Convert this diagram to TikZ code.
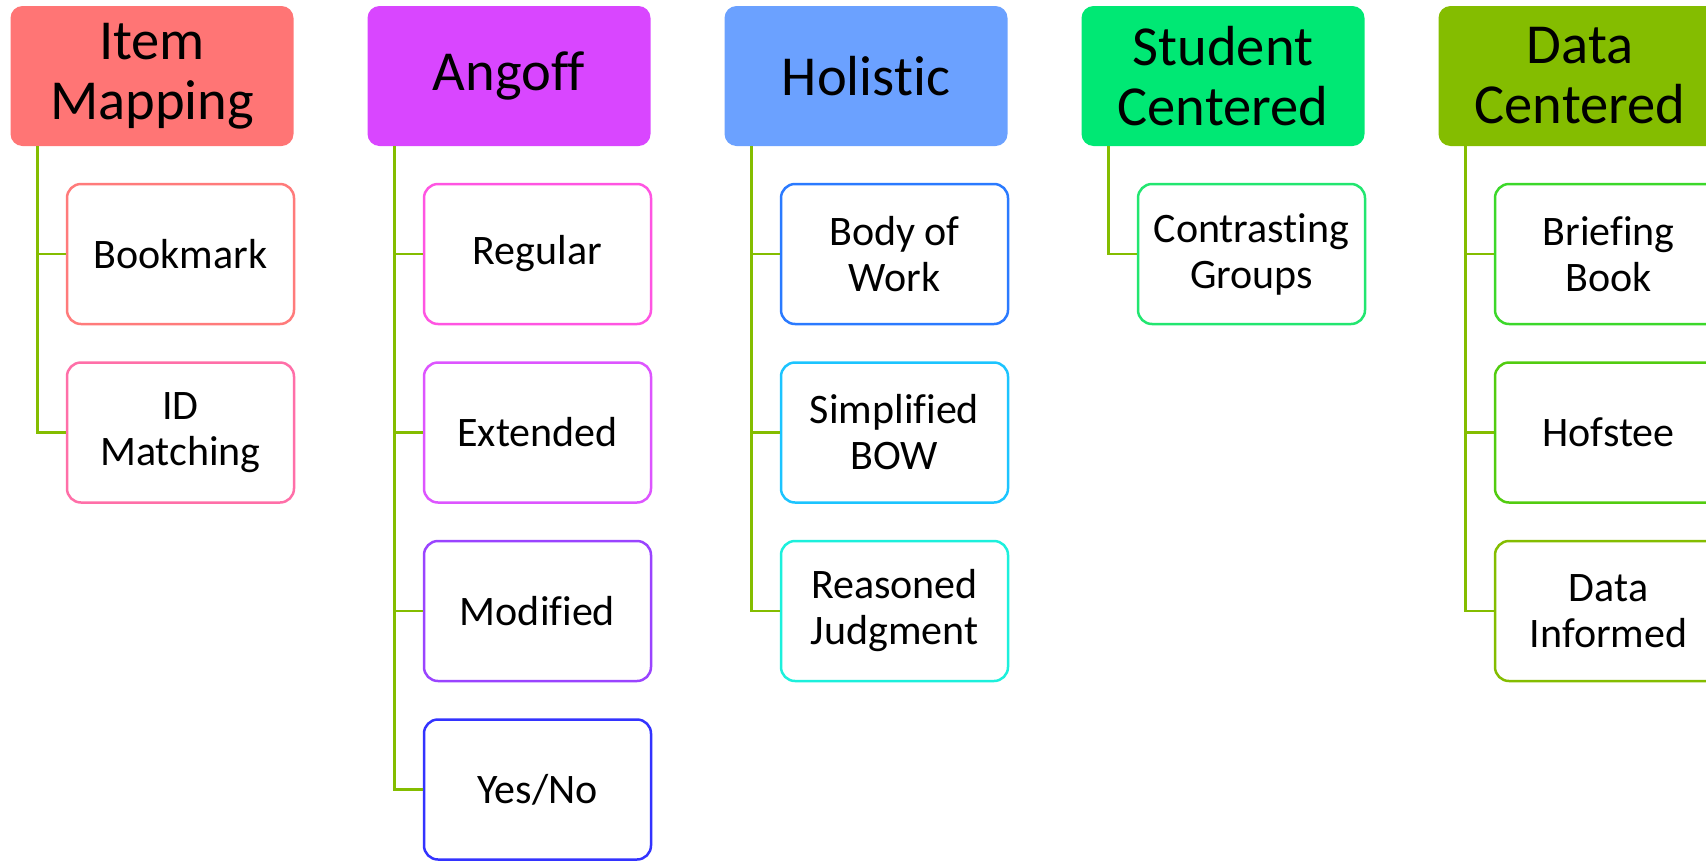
\documentclass[tikz,border=0pt]{standalone}
\usepackage{fontspec}
\setmainfont{Carlito}[Ligatures=NoCommon]
\usepackage{tikz}
\definecolor{imred}{HTML}{FF7575}
\definecolor{angmag}{HTML}{D946FF}
\definecolor{holblue}{HTML}{6BA1FF}
\definecolor{stugreen}{HTML}{00E874}
\definecolor{datgreen}{HTML}{84BD00}
\definecolor{branchgreen}{HTML}{84BD00}
\definecolor{bkmcol}{HTML}{FF7B7B}
\definecolor{idmcol}{HTML}{FF6FA8}
\definecolor{regcol}{HTML}{FF55E2}
\definecolor{extcol}{HTML}{DD55FF}
\definecolor{modcol}{HTML}{9A44FF}
\definecolor{yncol}{HTML}{3333FF}
\definecolor{bowcol}{HTML}{2A7AFF}
\definecolor{sbowcol}{HTML}{1CC4FF}
\definecolor{rjcol}{HTML}{1CF0DC}
\definecolor{cgcol}{HTML}{22E670}
\definecolor{bbcol}{HTML}{3CD82A}
\definecolor{hofcol}{HTML}{52CC10}
\definecolor{dicol}{HTML}{84BD00}
\tikzstyle{headblock} = [rectangle, rounded corners=12pt, minimum width=283pt, minimum height=140pt, align=center, inner sep=0, font=\fontsize{56.5}{60}\selectfont]
\tikzstyle{leafblock} = [draw, line width=2.5pt, fill=white, rounded corners=14pt, minimum width=227pt, minimum height=140pt, align=center, inner sep=0, font=\fontsize{42}{46}\selectfont]
\tikzstyle{branch} = [draw=branchgreen, line width=2.5pt]

\begin{document}
\begin{tikzpicture}[x=1pt, y=-1pt]
      \useasboundingbox (0, 0) rectangle (1706, 860);

      % headers
      \node[headblock, fill=imred] (itemmap) at (152, 76) {Item\\Mapping};
      \node[headblock, fill=angmag] (angoff) at (509, 76) {Angoff};
      \node[headblock, fill=holblue] (holistic) at (866, 76) {Holistic};
      \node[headblock, fill=stugreen] (student) at (1223, 76) {Student\\Centered};
      \node[headblock, fill=datgreen] (datacen) at (1580, 76) {Data\\Centered};

      % item mapping
      \node[leafblock, draw=bkmcol] (bookmark) at (180.5, 254) {Bookmark};
      \node[leafblock, draw=idmcol] (idmatch) at (180.5, 432.5) {ID\\Matching};

      % angoff
      \node[leafblock, draw=regcol] (regular) at (537.5, 254) {Regular};
      \node[leafblock, draw=extcol] (extended) at (537.5, 432.5) {Extended};
      \node[leafblock, draw=modcol] (modified) at (537.5, 611) {Modified};
      \node[leafblock, draw=yncol] (yesno) at (537.5, 789.5) {Yes/No};

      % holistic
      \node[leafblock, draw=bowcol] (bodywork) at (894.5, 254) {Body of\\Work};
      \node[leafblock, draw=sbowcol] (simpbow) at (894.5, 432.5) {Simplified\\BOW};
      \node[leafblock, draw=rjcol] (reasoned) at (894.5, 611) {Reasoned\\Judgment};

      % student centered
      \node[leafblock, draw=cgcol] (contrast) at (1251.5, 254) {Contrasting\\Groups};

      % data centered
      \node[leafblock, draw=bbcol] (briefing) at (1608.5, 254) {Briefing\\Book};
      \node[leafblock, draw=hofcol] (hofstee) at (1608.5, 432.5) {Hofstee};
      \node[leafblock, draw=dicol] (datainf) at (1608.5, 611) {Data\\Informed};

      % branches
      \draw[branch] ([xshift=27pt]itemmap.south west) |- (bookmark.west);
      \draw[branch] ([xshift=27pt]itemmap.south west) |- (idmatch.west);

      \draw[branch] ([xshift=27pt]angoff.south west) |- (regular.west);
      \draw[branch] ([xshift=27pt]angoff.south west) |- (extended.west);
      \draw[branch] ([xshift=27pt]angoff.south west) |- (modified.west);
      \draw[branch] ([xshift=27pt]angoff.south west) |- (yesno.west);

      \draw[branch] ([xshift=27pt]holistic.south west) |- (bodywork.west);
      \draw[branch] ([xshift=27pt]holistic.south west) |- (simpbow.west);
      \draw[branch] ([xshift=27pt]holistic.south west) |- (reasoned.west);

      \draw[branch] ([xshift=27pt]student.south west) |- (contrast.west);

      \draw[branch] ([xshift=27pt]datacen.south west) |- (briefing.west);
      \draw[branch] ([xshift=27pt]datacen.south west) |- (hofstee.west);
      \draw[branch] ([xshift=27pt]datacen.south west) |- (datainf.west);
    \end{tikzpicture}
\end{document}
